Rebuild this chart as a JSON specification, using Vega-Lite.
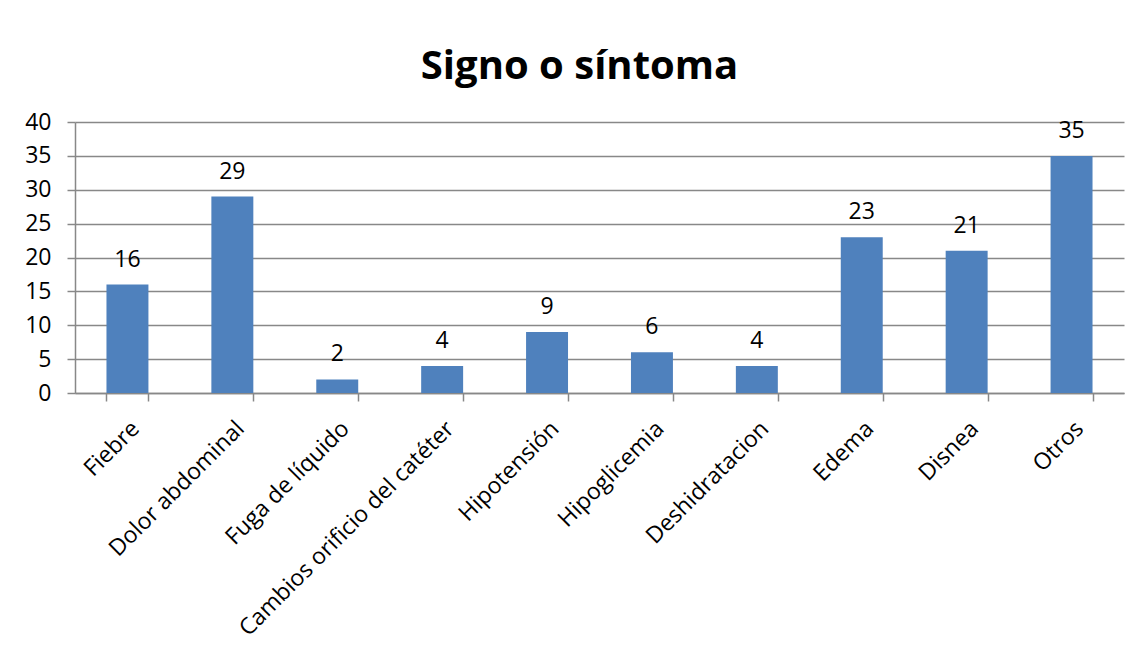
{
  "$schema": "https://vega.github.io/schema/vega-lite/v6.json",
  "width": 1049,
  "height": 271,
  "autosize": {"type": "none"},
  "padding": {"left": 75, "top": 122, "right": 17, "bottom": 266},
  "background": "white",
  "title": {
    "text": "Signo o síntoma",
    "font": "Open Sans",
    "fontSize": 40,
    "fontWeight": "bold",
    "color": "#000000",
    "anchor": "middle",
    "dx": -20,
    "offset": -8,
    "baseline": "alphabetic"
  },
  "data": {
    "values": [
      {"sintoma": "Fiebre", "n": 16},
      {"sintoma": "Dolor abdominal", "n": 29},
      {"sintoma": "Fuga de líquido", "n": 2},
      {"sintoma": "Cambios orificio del catéter", "n": 4},
      {"sintoma": "Hipotensión", "n": 9},
      {"sintoma": "Hipoglicemia", "n": 6},
      {"sintoma": "Deshidratacion", "n": 4},
      {"sintoma": "Edema", "n": 23},
      {"sintoma": "Disnea", "n": 21},
      {"sintoma": "Otros", "n": 35}
    ]
  },
  "encoding": {
    "x": {
      "field": "sintoma",
      "type": "nominal",
      "sort": null,
      "scale": {"paddingInner": 0.6, "paddingOuter": 0.3},
      "axis": {
        "title": null,
        "labelAngle": -45,
        "labelFont": "Open Sans",
        "labelFontSize": 23,
        "labelColor": "#000000",
        "labelPadding": 16,
        "labelLimit": 500,
        "tickBand": "extent",
        "tickSize": 8,
        "tickColor": "#888888",
        "domainColor": "#888888",
        "domainWidth": 1.5,
        "tickWidth": 1.5,
        "grid": false
      }
    },
    "y": {
      "field": "n",
      "type": "quantitative",
      "scale": {"domain": [0, 40]},
      "axis": {
        "title": null,
        "values": [0, 5, 10, 15, 20, 25, 30, 35, 40],
        "labelFont": "Open Sans",
        "labelFontSize": 23,
        "labelColor": "#000000",
        "labelPadding": 16,
        "tickSize": 8,
        "tickColor": "#888888",
        "tickWidth": 1.5,
        "domainColor": "#888888",
        "domainWidth": 1.5,
        "grid": true,
        "gridColor": "#888888",
        "gridWidth": 1.5
      }
    }
  },
  "layer": [
    {"mark": {"type": "bar", "color": "#4F81BD"}},
    {
      "mark": {
        "type": "text",
        "font": "Open Sans",
        "fontSize": 23,
        "color": "#000000",
        "baseline": "alphabetic",
        "dy": -18
      },
      "encoding": {"text": {"field": "n", "type": "quantitative"}}
    }
  ],
  "config": {"view": {"stroke": null}}
}
